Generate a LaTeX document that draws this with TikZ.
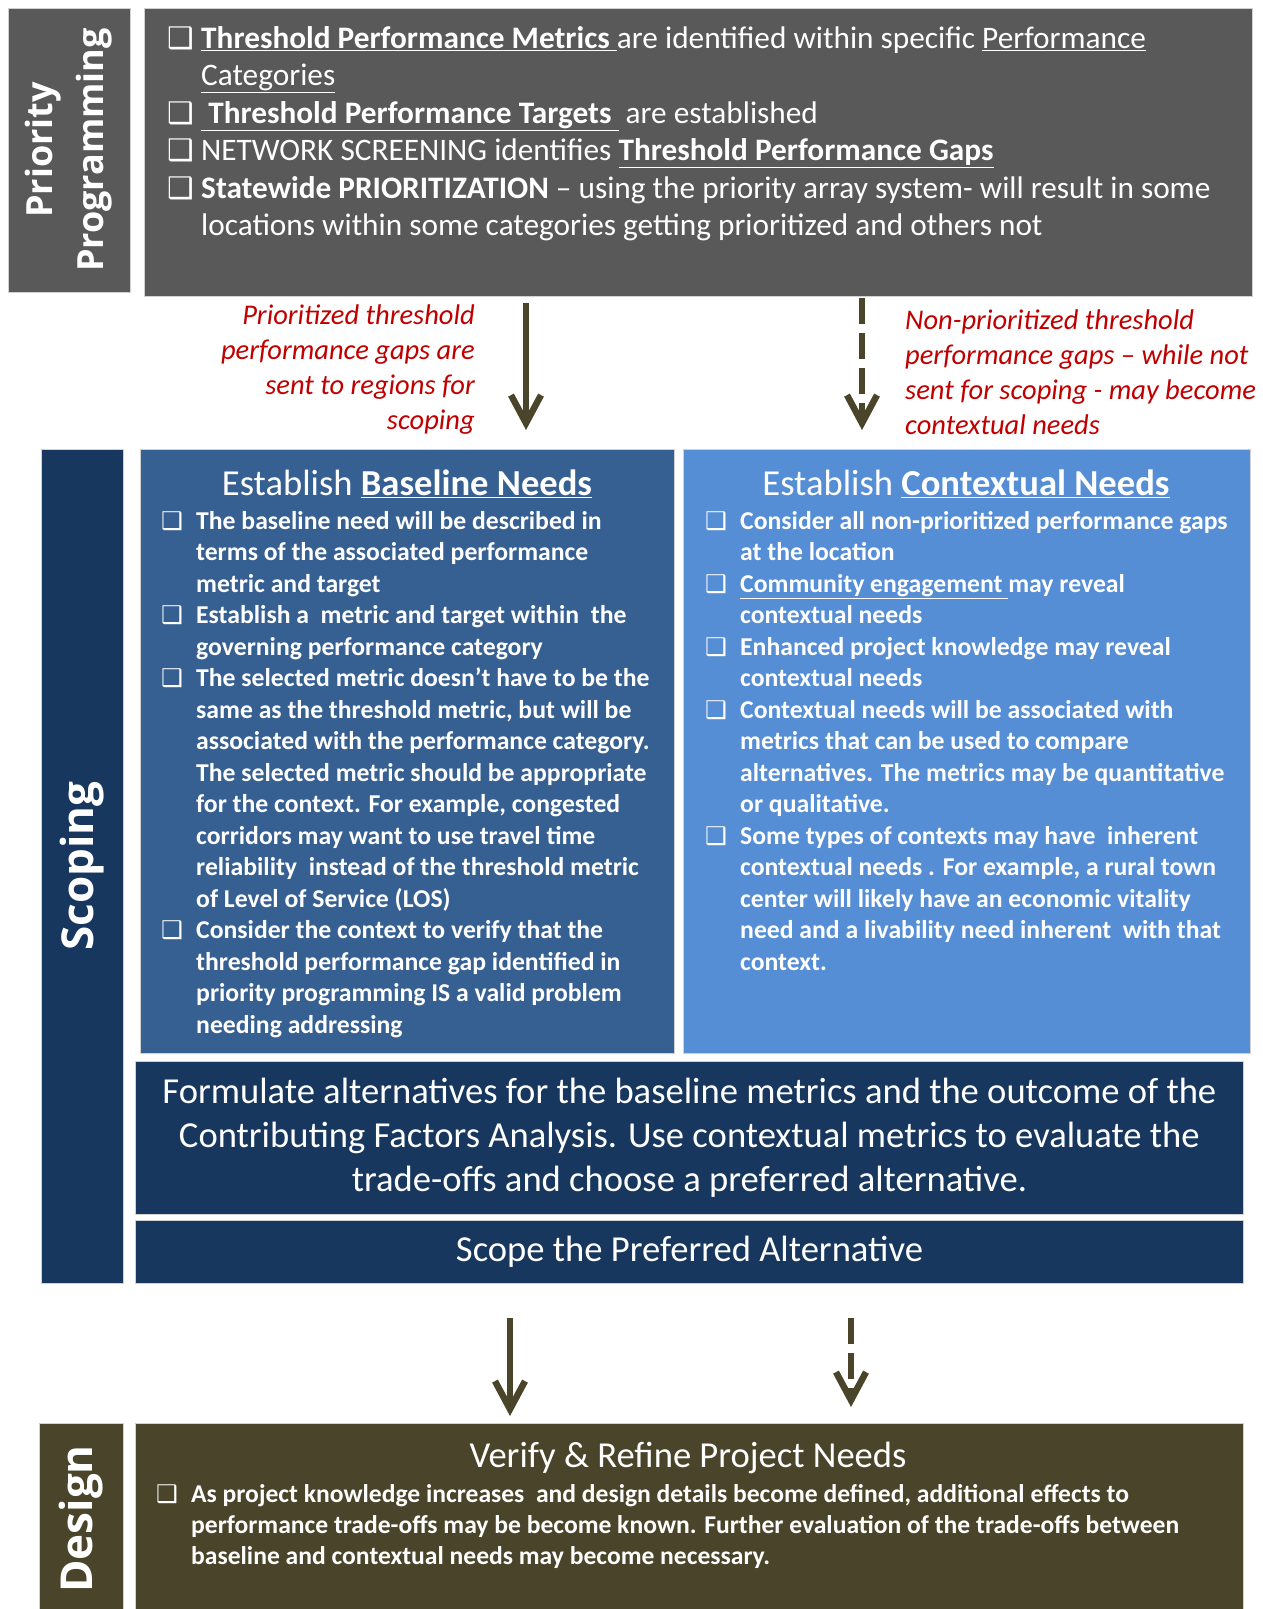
\documentclass[tikz,border=0pt]{standalone}
\usepackage{fontspec}
\setmainfont{Carlito}
\newfontfamily\labelfont{Open Sans}
\newfontfamily\boxfont{DejaVu Sans}
\usetikzlibrary{arrows.meta,positioning}
\definecolor{ppgray}{HTML}{595959}
\definecolor{navy}{HTML}{17375E}
\definecolor{basecol}{HTML}{376092}
\definecolor{ctxcol}{HTML}{558ED5}
\definecolor{olive}{HTML}{4A452A}
\definecolor{notered}{HTML}{C00000}
\newcommand{\chkbox}[1]{\makebox[#1][l]{\boxfont\scalebox{0.95}{❑}}}
\newcommand{\ind}[1]{\hspace*{#1}}
\tikzset{
  panel/.style={rectangle, draw=black!18, line width=0.8pt, anchor=north west, inner sep=0pt},
  sidelbl/.style={rectangle, draw=black!18, line width=0.8pt, text=white, rotate=90, align=center, inner sep=0pt},
  bodytxt/.style={text=white, align=left, anchor=north west, inner sep=0pt},
  headtxt/.style={text=white, inner sep=0pt, font=\fontsize{36.6}{44}\selectfont},
  note/.style={text=notered, inner sep=0pt, font=\itshape\fontsize{28.5}{35}\selectfont},
  arr/.style={draw=olive, line width=6.5pt, -{Straight Barb[length=28pt,width=30pt]}},
  darr/.style={arr, dash pattern=on 26pt off 9pt},
}

\begin{document}
\begin{tikzpicture}[x=1pt, y=-1pt]

\useasboundingbox (0,0) rectangle (1263,1609);
\fill[white] (0,0) rectangle (1263,1609);

% priority programming
\node[sidelbl, fill=ppgray, minimum width=284pt, minimum height=122pt,
  font=\labelfont\bfseries\fontsize{36}{51}\selectfont] (pplbl) at (69,150) {Priority\\Programming};
\node[panel, fill=ppgray, minimum width=1108pt, minimum height=288pt] (pp) at (144,8) {};
\node[bodytxt, font=\fontsize{31.3}{37.5}\selectfont] (pptxt) at (167,26) {%
\chkbox{34pt}\underline{\textbf{Threshold Performance Metrics }}are identified within specific \underline{Performance}\\
\ind{34pt}\underline{Categories}\\
\chkbox{34pt}\underline{\textbf{ Threshold Performance Targets }} are established\\
\chkbox{34pt}NETWORK SCREENING identifies \underline{\textbf{Threshold Performance Gaps}}\\
\chkbox{34pt}\textbf{Statewide PRIORITIZATION} -- using the priority array system- will result in some\\
\ind{34pt}locations within some categories getting prioritized and others not};

\node[note, align=right, anchor=north east] (lnote) at (475,305)
  {Prioritized threshold\\performance gaps are\\sent to regions for\\scoping};
\node[note, align=left, anchor=north west] (rnote) at (905,310)
  {Non-prioritized threshold\\performance gaps -- while not\\sent for scoping - may become\\contextual needs};

\coordinate (s1) at (526,303);
\coordinate (e1) at (526,430);
\coordinate (s2) at (862,298);
\coordinate (e2) at (862,430);
\draw[arr] (s1) -- (e1);
\draw[darr] (s2) -- (e2);

% scoping
\node[sidelbl, fill=navy, minimum width=834pt, minimum height=82pt,
  font=\labelfont\bfseries\fontsize{44}{52}\selectfont] (scoplbl) at (82,866) {Scoping};
\node[panel, fill=basecol, minimum width=534pt, minimum height=604pt] (bn) at (140,449) {};
\node[panel, fill=ctxcol, minimum width=567pt, minimum height=604pt] (cn) at (683,449) {};

\node[headtxt] (bnhead) at (407,484) {Establish \underline{\textbf{Baseline Needs}}};
\node[headtxt] (cnhead) at (966,484) {Establish \underline{\textbf{Contextual Needs}}};

\node[bodytxt, font=\bfseries\fontsize{25.7}{31.5}\selectfont] (bntxt) at (161,511) {%
\chkbox{35pt}The baseline need will be described in\\
\ind{35pt}terms of the associated performance\\
\ind{35pt}metric and target\\
\chkbox{35pt}Establish a\ \ metric and target within\ \ the\\
\ind{35pt}governing performance category\\
\chkbox{35pt}The selected metric doesn’t have to be the\\
\ind{35pt}same as the threshold metric, but will be\\
\ind{35pt}associated with the performance category.\\
\ind{35pt}The selected metric should be appropriate\\
\ind{35pt}for the context. For example, congested\\
\ind{35pt}corridors may want to use travel time\\
\ind{35pt}reliability\ \ instead of the threshold metric\\
\ind{35pt}of Level of Service (LOS)\\
\chkbox{35pt}Consider the context to verify that the\\
\ind{35pt}threshold performance gap identified in\\
\ind{35pt}priority programming IS a valid problem\\
\ind{35pt}needing addressing};

\node[bodytxt, font=\bfseries\fontsize{25.7}{31.5}\selectfont] (cntxt) at (705,511) {%
\chkbox{35pt}Consider all non-prioritized performance gaps\\
\ind{35pt}at the location\\
\chkbox{35pt}\underline{Community engagement }may reveal\\
\ind{35pt}contextual needs\\
\chkbox{35pt}Enhanced project knowledge may reveal\\
\ind{35pt}contextual needs\\
\chkbox{35pt}Contextual needs will be associated with\\
\ind{35pt}metrics that can be used to compare\\
\ind{35pt}alternatives. The metrics may be quantitative\\
\ind{35pt}or qualitative.\\
\chkbox{35pt}Some types of contexts may have\ \ inherent\\
\ind{35pt}contextual needs . For example, a rural town\\
\ind{35pt}center will likely have an economic vitality\\
\ind{35pt}need and a livability need inherent\ \ with that\\
\ind{35pt}context.};

\node[panel, fill=navy, minimum width=1108pt, minimum height=153pt, text=white, align=center,
  font=\fontsize{36.6}{44}\selectfont] (fa) at (135,1061)
  {Formulate alternatives for the baseline metrics and the outcome of the\\
   Contributing Factors Analysis. Use contextual metrics to evaluate the\\
   trade-offs and choose a preferred alternative.};
\node[panel, fill=navy, minimum width=1108pt, minimum height=63pt, text=white,
  font=\fontsize{36.6}{44}\selectfont] (sp) at (135,1220) {Scope the Preferred Alternative};

\coordinate (s3) at (510,1318);
\coordinate (e3) at (510,1416);
\coordinate (s4) at (851,1318);
\coordinate (e4) at (851,1407);
\draw[arr] (s3) -- (e3);
\draw[darr] (s4) -- (e4);

% design
\node[sidelbl, fill=olive, minimum width=192pt, minimum height=84pt,
  font=\labelfont\bfseries\fontsize{44}{52}\selectfont] (deslbl) at (81,1519) {Design};
\node[panel, fill=olive, minimum width=1108pt, minimum height=192pt] (dn) at (135,1423) {};
\node[headtxt] (dnhead) at (688,1458) {Verify \& Refine Project Needs};
\node[bodytxt, font=\bfseries\fontsize{25.6}{31.3}\selectfont] (dntxt) at (156,1484) {%
\chkbox{35pt}As project knowledge increases\ \ and design details become defined, additional effects to\\
\ind{35pt}performance trade-offs may be become known. Further evaluation of the trade-offs between\\
\ind{35pt}baseline and contextual needs may become necessary.};

\end{tikzpicture}
\end{document}
